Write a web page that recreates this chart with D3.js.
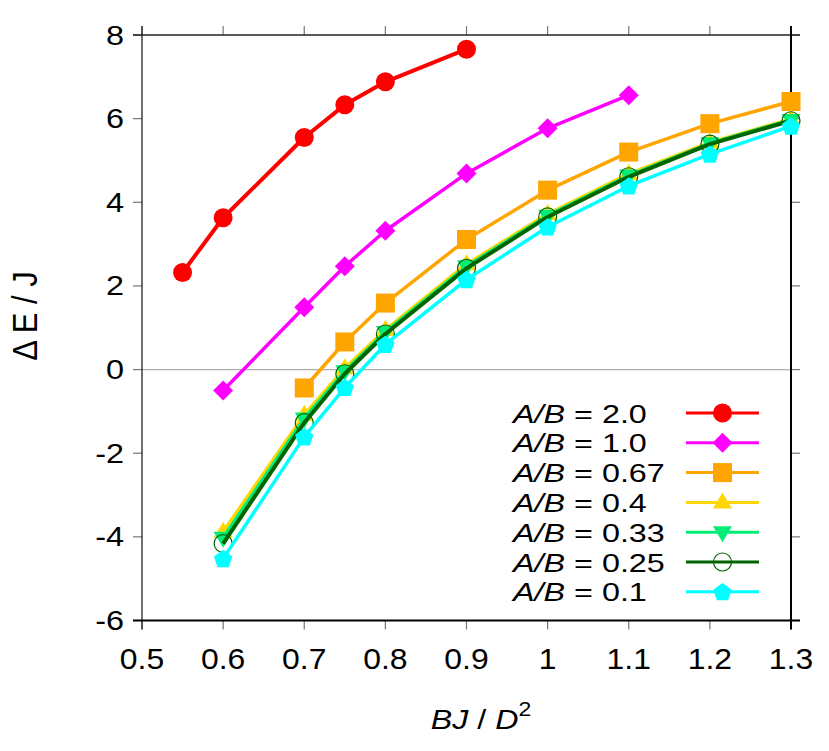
<!DOCTYPE html>
<html>
<head>
<meta charset="utf-8">
<script src="https://cdn.jsdelivr.net/npm/d3@7"></script>
<style>
  body { margin: 0; background: #fff; }
  svg text { font-family: "Liberation Sans", Arial, Helvetica, sans-serif; fill: #000; }
</style>
</head>
<body>
<svg id="chart"></svg>
<script>
(function () {
// data
var xRed = [0.55, 0.6, 0.7, 0.75, 0.8, 0.9]
var yRed = [2.32, 3.63, 5.55, 6.33, 6.88, 7.66]
var xMag = [0.6, 0.7, 0.75, 0.8, 0.9, 1.0, 1.1]
var yMag = [-0.50, 1.49, 2.47, 3.32, 4.69, 5.77, 6.56]
var xOra = [0.7, 0.75, 0.8, 0.9, 1.0, 1.1, 1.2, 1.3]
var yOra = [-0.44, 0.66, 1.59, 3.11, 4.29, 5.20, 5.88, 6.41]
var xLow = [0.6, 0.7, 0.75, 0.8, 0.9, 1.0, 1.1, 1.2, 1.3]
var yYel = [-3.88, -1.08, 0.03, 0.95, 2.52, 3.72, 4.68, 5.43, 5.99]
var yGrn = [-4.02, -1.17, -0.04, 0.90, 2.47, 3.68, 4.64, 5.41, 5.97]
var yDkg = [-4.16, -1.27, -0.10, 0.85, 2.42, 3.65, 4.61, 5.39, 5.95]
var yCya = [-4.52, -1.61, -0.43, 0.60, 2.15, 3.41, 4.39, 5.15, 5.82]
var ratios = ['2.0', '1.0', '0.67', '0.4', '0.33', '0.25', '0.1']
var xTicks = [0.5, 0.6, 0.7, 0.8, 0.9, 1.0, 1.1, 1.2, 1.3]
var yTicks = [-6, -4, -2, 0, 2, 4, 6, 8]

var W = 829, H = 751
var left = 142, right = 791, top = 35, bottom = 620.5

var series = [
    {xs: xRed, ys: yRed, color: '#ff0000', shape: 'circle', lw: 4},
    {xs: xMag, ys: yMag, color: '#ff00ff', shape: 'diamond', lw: 3.5},
    {xs: xOra, ys: yOra, color: '#ffa500', shape: 'square', lw: 3.5},
    {xs: xLow, ys: yYel, color: '#ffd700', shape: 'triangle', lw: 3.5},
    {xs: xLow, ys: yGrn, color: '#00ee77', shape: 'triangleDown', lw: 3.5},
    {xs: xLow, ys: yDkg, color: '#006400', shape: 'openCircle', lw: 4},
    {xs: xLow, ys: yCya, color: '#00ffff', shape: 'pentagon', lw: 3.5}
]

var x = d3.scaleLinear().domain([0.5, 1.3]).range([left, right])
var y = d3.scaleLinear().domain([-6, 8]).range([bottom, top])

var svg = d3.select('#chart').attr('width', W).attr('height', H)

// marker paths
var shapePath = function (shape) {
    var p = d3.path()
    if (shape == 'circle' || shape == 'openCircle') {
        var r = shape == 'circle' ? 9.5 : 9
        p.arc(0, 0, r, 0, 2 * Math.PI)
    } else if (shape == 'diamond') {
        p.moveTo(0, -10); p.lineTo(10, 0); p.lineTo(0, 10); p.lineTo(-10, 0); p.closePath()
    } else if (shape == 'square') {
        p.rect(-9.5, -9.5, 19, 19)
    } else if (shape == 'triangle' || shape == 'triangleDown') {
        var s = shape == 'triangle' ? 1 : -1
        p.moveTo(0, -10 * s); p.lineTo(9.5, 6 * s); p.lineTo(-9.5, 6 * s); p.closePath()
    } else if (shape == 'pentagon') {
        for (var k = 0; k < 5; k++) {
            var a = -Math.PI / 2 + k * 2 * Math.PI / 5
            var px = 9.6 * Math.cos(a), py = 9.6 * Math.sin(a) + 0.8
            if (k == 0) p.moveTo(px, py); else p.lineTo(px, py)
        }
        p.closePath()
    }
    return p.toString()
}

var drawMarker = function (g, s, cx, cy) {
    var m = g.append('path')
        .attr('d', shapePath(s.shape))
        .attr('transform', 'translate(' + cx + ',' + cy + ')')
    if (s.shape == 'openCircle') {
        m.attr('fill', 'none').attr('stroke', s.color).attr('stroke-width', 1.2)
    } else {
        m.attr('fill', s.color)
    }
}

// zero line
svg.append('line')
    .attr('x1', left).attr('x2', right)
    .attr('y1', y(0)).attr('y2', y(0))
    .attr('stroke', '#b0b0b0').attr('stroke-width', 1.3)

// ticks (outward, on all four sides)
var tickLen = 9
var tg = svg.append('g').attr('stroke', '#777').attr('stroke-width', 1.2)
yTicks.forEach(function (t) {
    tg.append('line').attr('x1', left - tickLen).attr('x2', left).attr('y1', y(t)).attr('y2', y(t))
    tg.append('line').attr('x1', right).attr('x2', right + tickLen).attr('y1', y(t)).attr('y2', y(t))
})
xTicks.forEach(function (t) {
    tg.append('line').attr('x1', x(t)).attr('x2', x(t)).attr('y1', bottom).attr('y2', bottom + tickLen)
    tg.append('line').attr('x1', x(t)).attr('x2', x(t)).attr('y1', top - tickLen).attr('y2', top)
})

// frame
svg.append('line').attr('x1', left - tickLen).attr('x2', right + tickLen).attr('y1', top).attr('y2', top)
    .attr('stroke', '#222').attr('stroke-width', 1.3)
svg.append('line').attr('x1', left).attr('x2', left).attr('y1', top - tickLen).attr('y2', bottom + tickLen)
    .attr('stroke', '#222').attr('stroke-width', 1.3)
svg.append('line').attr('x1', right).attr('x2', right).attr('y1', top - tickLen).attr('y2', bottom + tickLen)
    .attr('stroke', '#000').attr('stroke-width', 2)
svg.append('line').attr('x1', left - tickLen).attr('x2', right + tickLen).attr('y1', bottom).attr('y2', bottom)
    .attr('stroke', '#000').attr('stroke-width', 2.2)

// series
var line = d3.line().x(function (d) { return x(d[0]) }).y(function (d) { return y(d[1]) })
series.forEach(function (s) {
    var g = svg.append('g')
    var pts = s.xs.map(function (v, i) { return [v, s.ys[i]] })
    g.append('path').attr('d', line(pts))
        .attr('fill', 'none').attr('stroke', s.color)
        .attr('stroke-width', s.lw).attr('stroke-linejoin', 'round')
    pts.forEach(function (d) { drawMarker(g, s, x(d[0]), y(d[1])) })
})

// tick labels (stretched a bit horizontally, like the original)
var wideText = function (tx, ty, str, size, anchor, sx) {
    return svg.append('text')
        .attr('transform', 'translate(' + tx + ',' + ty + ') scale(' + sx + ',1)')
        .attr('font-size', size)
        .attr('text-anchor', anchor)
        .text(str)
}
yTicks.forEach(function (t) {
    wideText(left - 18, y(t) + 9.5, String(t), 27, 'end', 1.2)
})
xTicks.forEach(function (t) {
    var lab = t == 1 ? '1' : t.toFixed(1)
    wideText(x(t), 669, lab, 29, 'middle', 1.1)
})

// axis titles
svg.append('text')
    .attr('transform', 'translate(37,316) rotate(-90) scale(1,1.15)')
    .attr('font-size', 31)
    .attr('text-anchor', 'middle')
    .text('\u0394 E / J')

var xt = svg.append('text')
    .attr('transform', 'translate(481,729) scale(1.15,1)')
    .attr('font-size', 28)
    .attr('text-anchor', 'middle')
xt.append('tspan').attr('font-style', 'italic').text('BJ')
xt.append('tspan').text(' / ')
xt.append('tspan').attr('font-style', 'italic').text('D')
xt.append('tspan').attr('font-size', 20).attr('dy', -13).text('2')

// legend
var legTop = 413, legStep = 29.8
series.forEach(function (s, i) {
    var cy = legTop + i * legStep
    var t = svg.append('text')
        .attr('transform', 'translate(513,' + (cy + 9.5) + ') scale(1.22,1)')
        .attr('font-size', 26.5)
    t.append('tspan').attr('font-style', 'italic').text('A/B')
    t.append('tspan').text(' = ' + ratios[i])
    var g = svg.append('g')
    g.append('line').attr('x1', 686).attr('x2', 759).attr('y1', cy).attr('y2', cy)
        .attr('stroke', s.color).attr('stroke-width', 3)
    drawMarker(g, s, 722.5, cy)
})
})();
</script>
</body>
</html>
